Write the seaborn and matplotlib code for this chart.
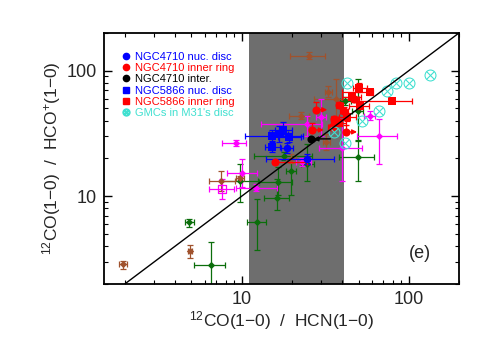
import numpy as np
import pandas as pd
import matplotlib
matplotlib.use('Agg')
import matplotlib.pyplot as plt
import seaborn as sns
from matplotlib.lines import Line2D
from matplotlib.ticker import FixedLocator, FixedFormatter, NullFormatter, LogLocator

# ---- data: centre, error-bar ends ----
# other galaxies (literature) - dark green diamonds
green_x   = [4.86, 6.57, 9.7, 12.4, 16.3, 16.5, 17.9, 24.6, 49.5, 49.5, 41.7, 19.7]
green_y   = [6.2, 2.82, 13.2, 6.2, 9.6, 13.0, 20.9, 18.0, 20.4, 47.9, 57.5, 15.8]
green_xlo = [4.6, 5.21, 7.5, 10.7, 13.6, 12.6, 11.8, 22.5, 38.4, 46.0, 38.5, 18.5]
green_xhi = [5.15, 7.9, 12.5, 14.0, 19.2, 20.0, 26.4, 27.0, 62.0, 53.0, 45.0, 21.0]
green_ylo = [5.65, 1.8, 8.96, 3.72, 7.77, 10.2, 19.5, 13.2, 13.2, 28.0, 53.0, 10.2]
green_yhi = [6.55, 4.33, 18.0, 9.46, 13.7, 17.0, 22.5, 26.0, 27.7, 86.0, 62.0, 19.8]

# magenta diamonds
mag_x   = [9.2, 10.0, 12.2, 24.7, 66.3, 58.2, 39.8, 23.0, 29.8]
mag_y   = [26.4, 15.2, 11.7, 37.6, 30.0, 43.9, 24.1, 18.8, 42.9]
mag_xlo = [7.58, 8.12, 9.2, 13.0, 49.3, 54.0, 29.0, 21.0, 28.0]
mag_xhi = [10.6, 12.3, 16.3, 30.4, 84.5, 63.0, 52.8, 26.0, 32.0]
mag_ylo = [24.9, 11.8, 11.0, 30.4, 18.0, 40.5, 13.3, 17.5, 30.2]
mag_yhi = [28.0, 19.8, 12.5, 43.9, 41.3, 47.5, 41.3, 20.2, 59.7]

# magenta open square
magsq_x, magsq_y = [7.6], [11.4]
magsq_xlo, magsq_xhi = [6.39], [8.95]
magsq_ylo, magsq_yhi = [9.46], [13.7]

# brown diamonds
br_x   = [1.95, 4.91, 7.5, 9.8, 25.4, 36.7, 22.6, 33.0, 19.7, 32.1]
br_y   = [2.86, 3.65, 13.2, 13.9, 132.0, 59.7, 43.9, 68.0, 19.8, 27.0]
br_xlo = [1.84, 4.75, 6.33, 9.3, 19.5, 27.1, 19.2, 31.5, 18.5, 30.5]
br_xhi = [2.07, 5.07, 9.16, 10.3, 31.6, 49.4, 25.4, 34.5, 21.0, 33.7]
br_ylo = [2.62, 3.2, 11.0, 13.2, 123.0, 39.8, 41.5, 62.0, 18.3, 23.5]
br_yhi = [3.06, 4.1, 15.9, 14.6, 142.0, 86.3, 46.5, 75.0, 21.5, 31.0]

# NGC4710 nuclear disc (blue circles)
n4710_nuc_x   = [18.7, 24.6]
n4710_nuc_y   = [24.2, 19.8]
n4710_nuc_xlo = [17.2, 13.9]
n4710_nuc_xhi = [20.4, 35.8]
n4710_nuc_ylo = [22.0, 18.0]
n4710_nuc_yhi = [26.5, 21.7]

# NGC5866 nuclear disc (blue squares)
n5866_nuc_x   = [15.2, 16.7, 19.2, 17.7, 15.2]
n5866_nuc_y   = [30.2, 31.3, 29.7, 33.7, 24.7]
n5866_nuc_xlo = [10.5, 14.5, 16.5, 15.8, 13.7]
n5866_nuc_xhi = [23.2, 19.0, 22.5, 20.0, 16.9]
n5866_nuc_ylo = [27.5, 27.0, 27.0, 30.0, 22.6]
n5866_nuc_yhi = [33.5, 36.0, 32.0, 39.1, 27.0]

# NGC4710 inter-region (black, x upper limit)
n4710_int_x, n4710_int_y = [26.1], [28.6]

# NGC4710 inner ring (red circles); first three are lower limits in x
n4710_ring_x   = [27.9, 26.4, 42.3, 15.8, 38.4, 35.8, 34.8, 47.3, 41.2]
n4710_ring_y   = [48.8, 33.7, 32.5, 18.7, 53.5, 41.3, 35.6, 59.7, 47.9]
n4710_ring_xlo = [27.9, 26.4, 42.3, 15.8, 36.5, 34.0, 33.0, 45.0, 39.0]
n4710_ring_xhi = [32.5, 31.0, 49.0, 24.6, 40.5, 37.8, 36.8, 50.0, 43.5]
n4710_ring_ylo = [48.8, 33.7, 32.5, 18.0, 50.5, 39.0, 33.8, 56.5, 45.0]
n4710_ring_yhi = [56.0, 38.5, 37.0, 19.5, 56.5, 43.7, 37.5, 63.0, 51.0]
n4710_ring_lim = [True, True, True, False, False, False, False, False, False]

# NGC5866 inner ring (red squares)
n5866_ring_x   = [50.0, 58.2, 79.0, 46.0, 50.7, 42.9, 38.4]
n5866_ring_y   = [73.1, 67.9, 57.5, 61.9, 52.5, 42.9, 38.4]
n5866_ring_xlo = [46.5, 40.0, 48.6, 40.0, 44.0, 38.0, 34.0]
n5866_ring_xhi = [56.0, 61.0, 105.0, 52.0, 58.0, 48.0, 42.0]
n5866_ring_ylo = [68.0, 64.5, 55.0, 58.0, 49.5, 40.0, 36.0]
n5866_ring_yhi = [80.0, 71.5, 60.0, 66.0, 56.0, 46.0, 41.0]

# GMCs in M31's disc (cyan, no error bars)
gmc_x = [42.9, 73.6, 83.6, 100.0, 134.0, 65.9, 52.8, 35.8, 41.7]
gmc_y = [80.2, 69.2, 80.2, 80.2, 92.9, 47.9, 39.8, 32.5, 26.5]

band_lo, band_hi = 11.0, 41.0

sns.set_style('ticks')
plt.rcParams['font.family'] = ['Liberation Sans', 'DejaVu Sans']
plt.rcParams['mathtext.default'] = 'regular'

fig = plt.figure(figsize=(4.91, 3.5), dpi=100)
ax = fig.add_axes([0.212, 0.189, 0.723, 0.717])
ax.set_xscale('log')
ax.set_yscale('log')
ax.set_xlim(1.5, 200)
ax.set_ylim(2, 200)

ax.axvspan(band_lo, band_hi, color='#6e6e6e', lw=0, zorder=0)


def bars(x, y, xlo, xhi, ylo, yhi, color, z=2):
    x = np.array(x); y = np.array(y)
    xe = [x - np.array(xlo), np.array(xhi) - x]
    ye = [y - np.array(ylo), np.array(yhi) - y]
    ax.errorbar(x, y, xerr=xe, yerr=ye, fmt='none', ecolor=color,
                elinewidth=0.9, capsize=2.2, capthick=0.9, zorder=z)


def dots(x, y, color, marker, s, z=3, **kw):
    df = pd.DataFrame({'x': x, 'y': y})
    sns.scatterplot(data=df, x='x', y='y', ax=ax, color=color, marker=marker,
                    s=s, linewidth=0, zorder=z, legend=False, **kw)


green = '#0b6e0b'
brown = '#a0522d'
magenta = '#ff00ff'

bars(green_x, green_y, green_xlo, green_xhi, green_ylo, green_yhi, green)
dots(green_x, green_y, green, 'D', 14)
bars(br_x, br_y, br_xlo, br_xhi, br_ylo, br_yhi, brown)
dots(br_x, br_y, brown, 'D', 14)
bars(mag_x, mag_y, mag_xlo, mag_xhi, mag_ylo, mag_yhi, magenta)
dots(mag_x, mag_y, magenta, 'D', 14)
bars(magsq_x, magsq_y, magsq_xlo, magsq_xhi, magsq_ylo, magsq_yhi, magenta)
ax.scatter(magsq_x, magsq_y, marker='s', s=30, facecolor='none',
           edgecolor=magenta, linewidth=0.9, zorder=3)

bars(n5866_nuc_x, n5866_nuc_y, n5866_nuc_xlo, n5866_nuc_xhi,
     n5866_nuc_ylo, n5866_nuc_yhi, 'blue', z=4)
dots(n5866_nuc_x, n5866_nuc_y, 'blue', 's', 26, z=5)
bars(n4710_nuc_x, n4710_nuc_y, n4710_nuc_xlo, n4710_nuc_xhi,
     n4710_nuc_ylo, n4710_nuc_yhi, 'blue', z=4)
dots(n4710_nuc_x, n4710_nuc_y, 'blue', 'o', 30, z=5)

# red inner ring: limits drawn as arrows to the right
for xi, yi, xl, xh, yl, yh, lim in zip(n4710_ring_x, n4710_ring_y, n4710_ring_xlo,
                                       n4710_ring_xhi, n4710_ring_ylo, n4710_ring_yhi,
                                       n4710_ring_lim):
    if lim:
        ax.annotate('', xy=(xh, yi), xytext=(xi, yi),
                    arrowprops=dict(arrowstyle='-|>', color='red', lw=1.0,
                                    mutation_scale=7, shrinkA=0, shrinkB=0), zorder=4)
        ax.errorbar([xi], [yi], yerr=[[0], [yh - yi]], fmt='none', ecolor='red',
                    elinewidth=0.9, capsize=2.2, zorder=4)
    else:
        bars([xi], [yi], [xl], [xh], [yl], [yh], 'red', z=4)
dots(n4710_ring_x, n4710_ring_y, 'red', 'o', 34, z=5)
bars(n5866_ring_x, n5866_ring_y, n5866_ring_xlo, n5866_ring_xhi,
     n5866_ring_ylo, n5866_ring_yhi, 'red', z=4)
dots(n5866_ring_x, n5866_ring_y, 'red', 's', 30, z=5)

# black inter-region point with an upper-limit arrow
ax.annotate('', xy=(n4710_int_x[0] * 1.03, n4710_int_y[0]),
            xytext=(n4710_int_x[0] * 1.3, n4710_int_y[0]),
            arrowprops=dict(arrowstyle='-|>', color='black', lw=1.0,
                            mutation_scale=7, shrinkA=0, shrinkB=0), zorder=6)
dots(n4710_int_x, n4710_int_y, 'black', 'o', 34, z=6)

dots(gmc_x, gmc_y, 'turquoise', r'$\otimes$', 75, z=5)

# one-to-one line
ax.plot([2, 200], [2, 200], color='black', lw=1.0, zorder=7)

# axes styling
for a in (ax.xaxis, ax.yaxis):
    a.set_major_locator(FixedLocator([10, 100]))
    a.set_major_formatter(FixedFormatter(['10', '100']))
    a.set_minor_locator(LogLocator(base=10, subs=np.arange(2, 10)))
    a.set_minor_formatter(NullFormatter())
ax.tick_params(which='both', direction='in', top=True, right=True, color='black')
ax.tick_params(which='major', length=6, width=1.0, labelsize=13, pad=5)
ax.tick_params(which='minor', length=3, width=0.8)
for sp in ax.spines.values():
    sp.set_linewidth(1.3)
    sp.set_color('black')

ax.set_xlabel(r'$^{12}$CO(1$-$0)  /  HCN(1$-$0)', fontsize=12.5, labelpad=1)
ax.set_ylabel(r'$^{12}$CO(1$-$0)  /  HCO$^{+}$(1$-$0)', fontsize=12.5, labelpad=3)

ax.text(0.89, 0.12, '(e)', transform=ax.transAxes, fontsize=13, ha='center', va='center')

# legend
leg_labels = ['NGC4710 nuc. disc', 'NGC4710 inner ring', 'NGC4710 inter.',
              'NGC5866 nuc. disc', 'NGC5866 inner ring', "GMCs in M31's disc"]
leg_colors = ['blue', 'red', 'black', 'blue', 'red', 'turquoise']
leg_markers = ['o', 'o', 'o', 's', 's', r'$\otimes$']
handles = [Line2D([], [], ls='none', marker=m, color=c, markersize=4.5 if m != r'$\otimes$' else 5)
           for m, c in zip(leg_markers, leg_colors)]
ax.legend(handles, leg_labels, loc='upper left', frameon=False, fontsize=8,
          labelcolor=leg_colors, handlelength=0.6, handletextpad=0.5,
          labelspacing=0.12, borderaxespad=0.6, bbox_to_anchor=(0.02, 0.97))

fig.savefig('out.png', dpi=100)
